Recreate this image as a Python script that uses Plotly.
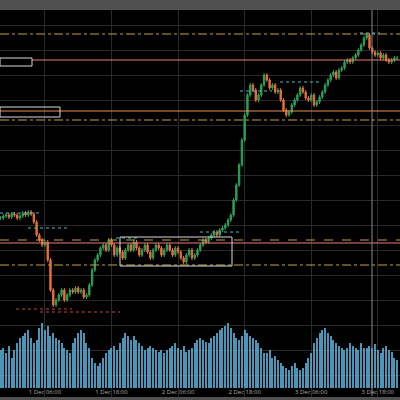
import pandas as pd
import plotly.graph_objects as go

# price in "chart units" (higher = up)
closes = [
    182, 184, 185, 183, 186, 185, 182, 184, 187, 185, 188, 186,
    178, 165, 160, 155, 158, 140, 110, 95, 100, 105, 110, 100,
    105, 110, 108, 112, 108, 110, 103, 105, 115, 130, 140, 145,
    152, 155, 150, 160, 155, 145, 152, 148, 142, 150, 155, 150,
    158, 152, 145, 150, 155, 148, 142, 150, 155, 152, 145, 150,
    155, 150, 145, 152, 148, 142, 138, 145, 150, 142, 145, 150,
    155, 160, 158, 162, 165, 168, 165, 170, 172, 175, 180, 185,
    200, 215, 235, 260, 285, 305, 315, 310, 300, 305, 315, 325,
    320, 312, 315, 308, 310, 300, 290, 285, 288, 295, 300, 305,
    312, 308, 302, 300, 305, 295, 298, 303, 308, 315, 320, 325,
    328, 322, 330, 332, 338, 340, 338, 342, 345, 350, 355, 362,
    365, 352, 348, 345, 347, 342, 345, 340, 338, 340, 342, 342,
]
volumes = [
    38, 40, 35, 42, 30, 38, 45, 50, 52, 55, 58, 50,
    45, 48, 60, 65, 58, 62, 52, 55, 50, 48, 45, 40,
    38, 35, 45, 50, 55, 58, 55, 45, 40, 30, 25, 22,
    25, 30, 35, 38, 40, 42, 38, 45, 50, 55, 52, 48,
    52, 48, 45, 42, 38, 40, 42, 40, 38, 36, 38, 35,
    38, 40, 42, 45, 40, 38, 42, 36, 38, 40, 45, 48,
    50, 48, 46, 45, 50, 52, 55, 58, 60, 62, 65, 60,
    55, 50, 48, 52, 58, 55, 52, 50, 48, 45, 40, 35,
    35, 38, 30, 32, 28, 25, 22, 20, 18, 22, 25, 20,
    18, 20, 25, 30, 35, 45, 50, 55, 58, 60, 55, 52,
    48, 45, 42, 40, 38, 40, 45, 42, 40, 38, 45, 40,
    40, 42, 40, 44, 38, 35, 40, 42, 38, 36, 30, 28,
]
opens = [closes[0]] + closes[:-1]
times = pd.date_range("2023-11-30 22:00", periods=len(closes), freq="30min")

# levels: (price, colour, dash, x start fraction)
levels = [
    (366, "#c8a040", "dashdot", 0), (340, "#e8806a", "solid", 0.08),
    (289, "#e89050", "solid", 0), (280, "#c8a040", "dashdot", 0),
    (160, "#c8a040", "dash", 0), (157, "#e8806a", "solid", 0),
    (135, "#c8a040", "dashdot", 0),
]
dotted = [  # (price, colour, x0 fraction, x1 fraction)
    (187, "#40c0c8", 0, 0.1), (172, "#40c0c8", 0.07, 0.17), (162, "#40c0c8", 0.29, 0.35),
    (88, "#d04040", 0.1, 0.3), (91, "#d04040", 0.04, 0.18), (168, "#40c0c8", 0.5, 0.6),
    (309, "#40c0c8", 0.6, 0.68), (318, "#40c0c8", 0.7, 0.8), (367, "#40c0c8", 0.9, 0.95),
]

fig = go.Figure()
fig.add_trace(go.Bar(x=times, y=volumes, yaxis="y2", marker_color="#5ab0d8",
                     marker_line_width=0, width=0.4 * 30 * 60 * 1000, opacity=0.85))
fig.add_trace(go.Candlestick(
    x=times, open=opens, close=closes,
    high=[max(o, c) + 2 for o, c in zip(opens, closes)],
    low=[min(o, c) - 2 for o, c in zip(opens, closes)],
    increasing=dict(line=dict(color="#2ea05a", width=1), fillcolor="#2ea05a"),
    decreasing=dict(line=dict(color="#e8703a", width=1), fillcolor="#e8703a"),
    whiskerwidth=0))

for p, c, d, x0 in levels:
    fig.add_shape(type="line", xref="paper", yref="y", x0=x0, x1=1, y0=p, y1=p,
                  line=dict(color=c, width=1, dash=d))
for p, c, x0, x1 in dotted:
    fig.add_shape(type="line", xref="paper", yref="y", x0=x0, x1=x1, y0=p, y1=p,
                  line=dict(color=c, width=1, dash="dot"))
# boxes
for x0, x1, y0, y1 in [(0, 0.08, 334, 342), (0, 0.15, 283, 293), (0.3, 0.58, 134, 163)]:
    fig.add_shape(type="rect", xref="paper", yref="y", x0=x0, x1=x1, y0=y0, y1=y1,
                  line=dict(color="#d8d8d8", width=1))
fig.add_shape(type="line", xref="paper", yref="paper", x0=0.93, x1=0.93, y0=0.01, y1=1,
              line=dict(color="#888888", width=1))
for y0, y1 in [(1.0, 1.03), (0, 0.008)]:
    fig.add_shape(type="rect", xref="paper", yref="paper", x0=0, x1=1, y0=y0, y1=y1,
                  fillcolor="#505050", line_width=0, layer="above")

fig.update_layout(
    width=400, height=400, margin=dict(l=0, r=0, t=10, b=0),
    paper_bgcolor="#000000", plot_bgcolor="#000000", showlegend=False,
    xaxis=dict(rangeslider_visible=False, range=[times[0] - pd.Timedelta("6min"), times[0] + pd.Timedelta("72h")],
               tickvals=pd.date_range("2023-12-01 06:00", periods=6, freq="12h"),
               tickformat="%-d Dec %H:%M", tickfont=dict(size=6, color="#aaaaaa"),
               ticklabelposition="inside", ticklabelstandoff=2,
               gridcolor="#2a2a2a", showline=False, zeroline=False),
    yaxis=dict(range=[0, 390], showticklabels=False, gridcolor="#2a2a2a", dtick=25, zeroline=False),
    yaxis2=dict(range=[-12, 378], overlaying="y", showticklabels=False, showgrid=False, zeroline=False),
    bargap=0,
)
fig.write_html("out.html", config={"displayModeBar": False},
               post_script="document.body.style.margin='0';")
